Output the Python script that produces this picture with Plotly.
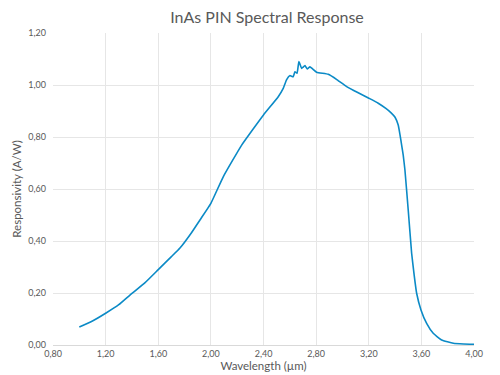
import plotly.graph_objects as go

wavelength = [1.00, 1.10, 1.20, 1.30, 1.385, 1.50, 1.60, 1.70, 1.765, 1.85, 1.917, 2.00,
              2.094, 2.234, 2.32, 2.40, 2.512, 2.55, 2.575, 2.60, 2.626, 2.639, 2.655,
              2.669, 2.69, 2.70, 2.715, 2.732, 2.753, 2.773, 2.804, 2.892, 2.96, 3.032,
              3.12, 3.201, 3.272, 3.33, 3.37, 3.40, 3.424, 3.437, 3.45, 3.462, 3.475,
              3.50, 3.526, 3.545, 3.564, 3.597, 3.64, 3.69, 3.754, 3.843, 3.92, 4.00]
responsivity = [0.069, 0.092, 0.122, 0.155, 0.192, 0.240, 0.290, 0.340, 0.373, 0.430, 0.481, 0.545,
                0.647, 0.769, 0.830, 0.885, 0.955, 0.987, 1.020, 1.036, 1.032, 1.051, 1.045,
                1.090, 1.064, 1.068, 1.075, 1.062, 1.070, 1.062, 1.049, 1.041, 1.020, 0.994,
                0.970, 0.949, 0.930, 0.910, 0.893, 0.876, 0.846, 0.810, 0.769, 0.730, 0.673,
                0.519, 0.353, 0.270, 0.199, 0.135, 0.083, 0.045, 0.019, 0.0065, 0.004, 0.003]

x_ticks = [0.8, 1.2, 1.6, 2.0, 2.4, 2.8, 3.2, 3.6, 4.0]
y_ticks = [0.0, 0.2, 0.4, 0.6, 0.8, 1.0, 1.2]

font_family = "Lato, 'Open Sans', sans-serif"
gray = "#595959"

fig = go.Figure(go.Scatter(
    x=wavelength, y=responsivity, mode="lines",
    line=dict(color="#0B8AC6", width=1.6, shape="spline", smoothing=0.4),
    hoverinfo="x+y"
))

fig.update_layout(
    width=500, height=375,
    margin=dict(l=45, r=34, t=25, b=38),
    paper_bgcolor="white", plot_bgcolor="white",
    separators=",.",
    showlegend=False,
    font=dict(family=font_family, color=gray),
    title=dict(text="InAs PIN Spectral Response", x=0.518, xanchor="center",
               y=0.974, yanchor="middle",
               font=dict(size=16, color=gray, family=font_family)),
)
fig.update_xaxes(
    range=[0.8, 4.0], tickvals=x_ticks, tickformat=".2f",
    showgrid=True, gridcolor="#E6E6E6", gridwidth=1,
    showline=True, linecolor="#D9D9D9", linewidth=1,
    zeroline=False, ticks="", tickfont=dict(size=9, color=gray),
    title=dict(text="Wavelength (µm)", font=dict(size=11.5, color=gray), standoff=2),
    automargin=False,
)
fig.update_yaxes(
    range=[0, 1.2], tickvals=y_ticks, tickformat=".2f",
    showgrid=True, gridcolor="#E6E6E6", gridwidth=1,
    showline=False, zeroline=False, ticks="", ticklabelstandoff=6,
    tickfont=dict(size=9, color=gray),
    title=dict(text="Responsivity (A/W)", font=dict(size=11.5, color=gray), standoff=4),
    automargin=False,
)

fig.write_html("out.html")
